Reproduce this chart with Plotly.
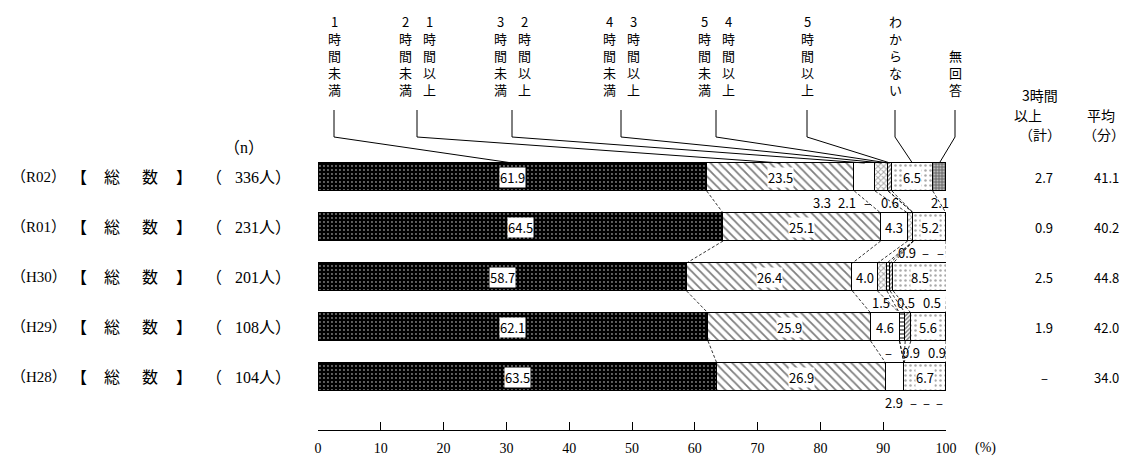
import plotly.graph_objects as go

# ---------------- data ----------------
categories = ["1時間未満", "1時間以上2時間未満", "2時間以上3時間未満", "3時間以上4時間未満",
              "4時間以上5時間未満", "5時間以上", "わからない", "無回答"]
years = ["R02", "R01", "H30", "H29", "H28"]
n_counts = [336, 231, 201, 108, 104]

v_lt1 = [61.9, 64.5, 58.7, 62.1, 63.5]
v_1to2 = [23.5, 25.1, 26.4, 25.9, 26.9]
v_2to3 = [3.3, 4.3, 4.0, 4.6, 2.9]
v_3to4 = [2.1, 0.9, 1.5, 0.0, 0.0]
v_4to5 = [0.0, 0.0, 0.5, 0.9, 0.0]
v_5plus = [0.6, 0.0, 0.5, 0.9, 0.0]
v_unknown = [6.5, 5.2, 8.5, 5.6, 6.7]
v_noans = [2.1, None, None, None, None]

over3_total = ["2.7", "0.9", "2.5", "1.9", "–"]
avg_minutes = ["41.1", "40.2", "44.8", "42.0", "34.0"]

series = [v_lt1, v_1to2, v_2to3, v_3to4, v_4to5, v_5plus, v_unknown, v_noans]

# ---------------- layout constants ----------------
OFF = 8                      # page body margin
W, H = 1123, 451
SX0, SX100 = 318, 946        # screen px of 0 % and 100 %
S_AXIS = 430                 # screen px of x-axis line
L = SX0 - OFF
R = W - (SX100 - OFF)
T = 0
B = H - (S_AXIS - OFF)
PLOT_W = W - L - R
PLOT_H = H - T - B
PXU = PLOT_W / 100.0
ROW0_S, ROW_PIX = 177, 50    # screen px of first row centre, row pitch
BAR_W = 0.56


def xd(sx):
    return (sx - SX0) / PXU


def yd(sy):
    return (sy - ROW0_S) / ROW_PIX


def xp(sx):
    return (sx - SX0) / PLOT_W


def yp(sy):
    return 1 - (sy - OFF - T) / PLOT_H


Y_TOP = yd(OFF + T)
Y_BOT = yd(S_AXIS)

JP = "Noto Sans CJK JP"
SERIF = "Liberation Serif, Noto Sans CJK JP"
GOTH = "Noto Sans CJK JP"

patterns = [
    dict(shape=".", bgcolor="#000000", fgcolor="#ffffff", size=4, solidity=0.18),
    dict(shape="\\", bgcolor="#ffffff", fgcolor="#000000", size=6, solidity=0.3),
    None,
    dict(shape="x", bgcolor="#ffffff", fgcolor="#555555", size=4, solidity=0.45),
    dict(shape="-", bgcolor="#ffffff", fgcolor="#000000", size=4, solidity=0.5),
    dict(shape="/", bgcolor="#ffffff", fgcolor="#000000", size=3, solidity=0.5),
    dict(shape=".", bgcolor="#ffffff", fgcolor="#555555", size=5, solidity=0.2),
    dict(shape=".", bgcolor="#777777", fgcolor="#ffffff", size=3, solidity=0.35),
]

# screen positions (px) of the labels written below each bar for small values
small_label_px = [
    [822, 847, 867, 890, 940],
    [907, 925, 940],
    [881, 906, 932],
    [888, 911, 937],
    [894, 913, 926, 939],
]

fig = go.Figure()
rows = list(range(len(years)))

for k, vals in enumerate(series):
    xs = [0 if v is None else v for v in vals]
    pat = patterns[k]
    marker = dict(color="#ffffff", line=dict(color="#000000", width=1))
    if pat is not None:
        marker["pattern"] = pat
    fig.add_trace(go.Bar(
        x=xs, y=rows, orientation="h", width=BAR_W, name=categories[k],
        marker=marker, hoverinfo="skip", showlegend=False,
    ))

cums = []
for i in rows:
    c = 0
    row_c = []
    for vals in series:
        v = vals[i] or 0
        row_c.append((c, c + v))
        c += v
    cums.append(row_c)

lx, ly = [], []
for k in range(len(series) - 1):
    for i in rows[:-1]:
        lx += [cums[i][k][1], cums[i + 1][k][1], None]
        ly += [i + BAR_W / 2, i + 1 - BAR_W / 2, None]
fig.add_trace(go.Scatter(x=lx, y=ly, mode="lines", line=dict(color="#000000", width=0.8, dash="3px,2px"),
                         hoverinfo="skip", showlegend=False))

ann = []


def txt_ann(text, sx, sy, size=13, family=GOTH, xanchor="center", yanchor="middle", **kw):
    d = dict(x=xp(sx), y=yp(sy), xref="paper", yref="paper", text=text, showarrow=False,
             xanchor=xanchor, yanchor=yanchor, font=dict(family=family, size=size, color="#000"))
    d.update(kw)
    ann.append(d)


for i in rows:
    small_pos = iter(small_label_px[i])
    for k, vals in enumerate(series):
        v = vals[i]
        if v is None:
            continue
        txt = "–" if v == 0 else f"{v:.1f}"
        a, b = cums[i][k]
        if v >= 4:
            ann.append(dict(x=(a + b) / 2, y=i, xref="x", yref="y", text=txt, showarrow=False,
                            font=dict(family=GOTH, size=13, color="#000"), bgcolor="#ffffff", borderpad=0))
        else:
            sy = ROW0_S + ROW_PIX * (i + 0.5)
            txt_ann(txt, next(small_pos), sy)

for i in rows:
    sy = ROW0_S + ROW_PIX * i
    txt_ann(f"（{years[i]}）", 9, sy, size=15, family=SERIF, xanchor="left")
    for ch, sx in [("【", 79), ("総", 112), ("数", 150), ("】", 184), ("（", 214)]:
        txt_ann(ch, sx, sy, size=16, family=SERIF)
    txt_ann(f"{n_counts[i]}人）", 293, sy, size=16, family=SERIF, xanchor="right")
    txt_ann(over3_total[i], 1044, sy)
    txt_ann(avg_minutes[i], 1106, sy)

txt_ann("（n）", 244, 147, size=16, family=SERIF)

for text, sx, sy in [("3時間", 1040, 95), ("以上", 1028, 115), ("（計）", 1040, 134),
                     ("平均", 1101, 115), ("（分）", 1104, 134)]:
    txt_ann(text, sx, sy, size=14, family=JP)

txt_ann("(%)", 985, 448, size=14, family=SERIF)

header = [
    (["1時間未満"], 334),
    (["1時間以上", "2時間未満"], 417),
    (["2時間以上", "3時間未満"], 512),
    (["3時間以上", "4時間未満"], 621),
    (["4時間以上", "5時間未満"], 716),
    (["5時間以上"], 807),
    (["わからない"], 895),
    (["無回答"], 955),
]
COL_GAP = 12
shapes = []
for k, (cols, lpx) in enumerate(header):
    colpx = [lpx] if len(cols) == 1 else [lpx + COL_GAP, lpx - COL_GAP]
    for text, cpx in zip(cols, colpx):
        txt_ann("<br>".join(list(text)), cpx, 101, size=13, family=JP, yanchor="bottom")
    a, b = cums[0][k]
    mid = (a + b) / 2
    x0 = xp(lpx)
    x1 = mid / 100
    path = f"M {x0},{yd(110)} L {x0},{yd(137)} L {x1},{-BAR_W / 2}"
    shapes.append(dict(type="path", path=path, xref="paper", yref="y",
                       line=dict(color="#000000", width=1)))

fig.update_layout(
    width=W, height=H,
    margin=dict(l=L, r=R, t=T, b=B, pad=0, autoexpand=False),
    barmode="stack",
    bargap=0,
    paper_bgcolor="#ffffff", plot_bgcolor="#ffffff",
    showlegend=False,
    hovermode=False,
    annotations=ann,
    shapes=shapes,
    xaxis=dict(range=[0, 100], tickvals=list(range(0, 101, 10)), ticks="inside", ticklen=8,
               tickcolor="#000", showline=True, linecolor="#000", linewidth=1, showgrid=False,
               zeroline=False, tickfont=dict(family=SERIF, size=14, color="#000"),
               ticklabelstandoff=5, automargin=False, fixedrange=True),
    yaxis=dict(range=[Y_BOT, Y_TOP], visible=False, showgrid=False, zeroline=False,
               automargin=False, fixedrange=True),
)

fig.write_html("out.html")
